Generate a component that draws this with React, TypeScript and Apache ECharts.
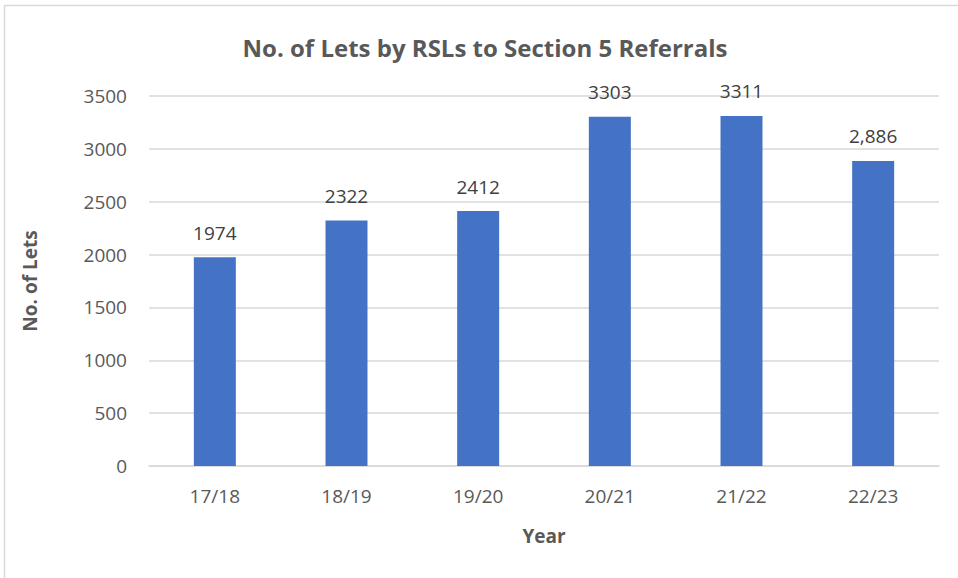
import React, { useEffect, useRef } from "react";
import * as echarts from "echarts";

const categories = ["17/18", "18/19", "19/20", "20/21", "21/22", "22/23"];
const lets = [1974, 2322, 2412, 3303, 3311, 2886];
const labelTexts = ["1974", "2322", "2412", "3303", "3311", "2,886"];
const yTicks = { min: 0, max: 3500, interval: 500 };

const FONT = "'Open Sans', 'Noto Sans', sans-serif";

export default function App() {
  const ref = useRef<HTMLDivElement>(null);
  useEffect(() => {
    document.body.style.margin = "0";
    const chart = echarts.init(ref.current!, null, { renderer: "svg" });
    chart.setOption({
      animation: false,
      backgroundColor: "#ffffff",
      title: {
        text: "No. of Lets by RSLs to Section 5 Referrals",
        left: 480,
        top: 30,
        textAlign: "center",
        textStyle: { fontFamily: FONT, fontSize: 24, fontWeight: "bold", color: "#595959" },
      },
      graphic: [
        {
          type: "rect",
          shape: { x: 4.5, y: 5.5, width: 1200, height: 1200 },
          style: { fill: "none", stroke: "#d9d9d9", lineWidth: 1.5 },
          silent: true,
        },
      ],
      grid: { left: 149, right: 19, top: 96, bottom: 112 },
      xAxis: {
        type: "category",
        data: categories,
        name: "Year",
        nameLocation: "middle",
        nameGap: 60,
        nameTextStyle: { fontFamily: FONT, fontSize: 19, fontWeight: "bold", color: "#595959" },
        axisLine: { lineStyle: { color: "#d9d9d9", width: 1.5 } },
        axisTick: { show: false },
        axisLabel: { fontFamily: FONT, fontSize: 19, color: "#595959", margin: 20 },
      },
      yAxis: {
        type: "value",
        min: yTicks.min,
        max: yTicks.max,
        interval: yTicks.interval,
        name: "No. of Lets",
        nameLocation: "middle",
        nameGap: 110,
        nameTextStyle: { fontFamily: FONT, fontSize: 19, fontWeight: "bold", color: "#595959" },
        axisLine: { show: false },
        axisTick: { show: false },
        splitLine: { lineStyle: { color: "#d9d9d9", width: 1.5 } },
        axisLabel: {
          fontFamily: FONT,
          fontSize: 19,
          color: "#595959",
          margin: 22,
          formatter: (v: number) => String(v),
        },
      },
      series: [
        {
          type: "bar",
          data: lets,
          barWidth: 42,
          itemStyle: { color: "#4472C4" },
          label: {
            show: true,
            position: "top",
            distance: 15,
            fontFamily: FONT,
            fontSize: 19,
            color: "#404040",
            formatter: (p: any) => labelTexts[p.dataIndex],
          },
        },
      ],
    });
    return () => chart.dispose();
  }, []);
  return <div ref={ref} style={{ width: 958, height: 578 }} />;
}
